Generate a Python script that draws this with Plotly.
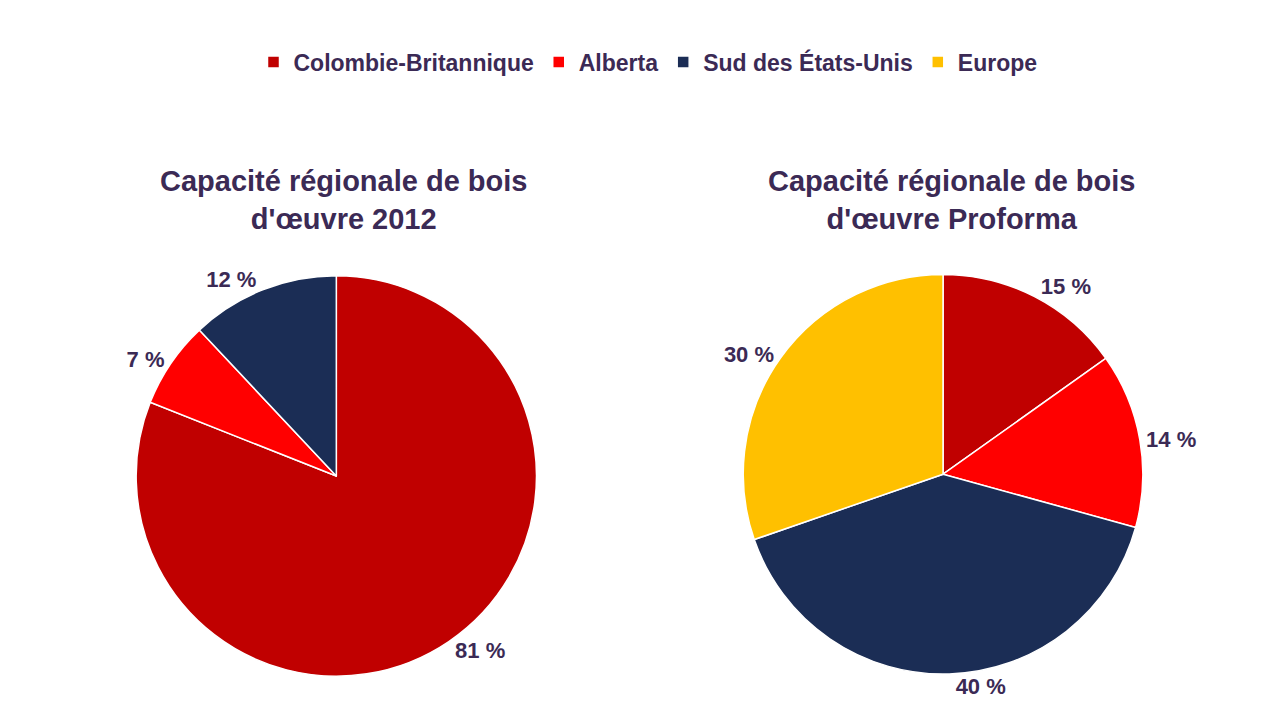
import plotly.graph_objects as go

labels = ["Colombie-Britannique", "Alberta", "Sud des États-Unis", "Europe"]
colors = ["#C00000", "#FF0000", "#1B2D55", "#FFC000"]
vals_2012 = [81, 7, 12]
vals_pro = [15, 14, 40, 30]
txt = "#3B2A55"
font = "Liberation Sans, Arial, sans-serif"

fig = go.Figure()
fig.add_trace(go.Pie(labels=labels[:3], values=vals_2012, sort=False, direction="clockwise",
    rotation=0, marker=dict(colors=colors[:3], line=dict(color="white", width=1.5)),
    texttemplate="<b>%{value} %</b>", textposition="outside", textfont=dict(size=22, color=txt, family=font),
    domain=dict(x=[0.100, 0.413], y=[0.072, 0.628]), hoverinfo="label+value"))
fig.add_trace(go.Pie(labels=labels, values=vals_pro, sort=False, direction="clockwise",
    rotation=0, marker=dict(colors=colors, line=dict(color="white", width=1.5)),
    texttemplate="<b>%{value} %</b>", textposition="outside", textfont=dict(size=22, color=txt, family=font),
    domain=dict(x=[0.574, 0.887], y=[0.075, 0.630]), hoverinfo="label+value"))

for x, t in [(0.262, "Capacité régionale de bois<br>d'œuvre 2012"), (0.737, "Capacité régionale de bois<br>d'œuvre Proforma")]:
    fig.add_annotation(x=x, y=0.733, xref="paper", yref="paper", text="<b>"+t+"</b>", showarrow=False,
                       font=dict(size=29, color=txt, family=font), xanchor="center", yanchor="middle")

fig.update_layout(width=1280, height=720, margin=dict(l=0, r=0, t=0, b=0), paper_bgcolor="white",
    legend=dict(orientation="h", x=0.5, xanchor="center", y=0.925, yanchor="middle",
                font=dict(size=23, color=txt, family=font), traceorder="normal"),
    font=dict(family=font))
for lab in labels:
    pass
fig.update_layout(legend_font=dict(size=23, color=txt, family=font, weight="bold"))
fig.write_html("out.html")
